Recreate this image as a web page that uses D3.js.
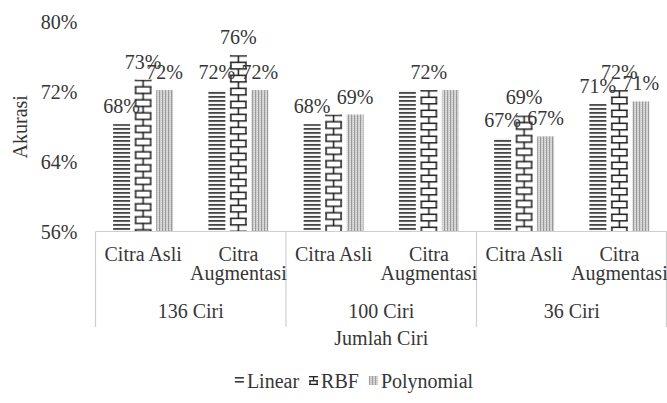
<!DOCTYPE html>
<html>
<head>
<meta charset="utf-8">
<script src="https://cdn.jsdelivr.net/npm/d3@7/dist/d3.min.js"></script>
<style>
  html, body { margin: 0; padding: 0; background: #fff; }
  svg { display: block; }
  svg text { font-family: "Liberation Serif", "Times New Roman", serif; }
</style>
</head>
<body>
<svg id="chart" width="667" height="403"></svg>
<script>
// Accuracy of three SVM kernels per feature count and image set
const groups = ["136 Ciri", "100 Ciri", "36 Ciri"];
const subsets = ["Citra Asli", "Citra Augmentasi"];
const series = ["Linear", "RBF", "Polynomial"];
const linearVals = [0.683, 0.722, 0.683, 0.722, 0.667, 0.706];
const rbfVals    = [0.734, 0.762, 0.694, 0.722, 0.693, 0.722];
const polyVals   = [0.722, 0.722, 0.694, 0.722, 0.669, 0.709];
const yTicks = [0.56, 0.64, 0.72, 0.80];
const yTitle = "Akurasi";
const xTitle = "Jumlah Ciri";
// value labels left out where they would sit on top of a neighbour (slot, series)
const hiddenLabels = [[2, "RBF"], [3, "Linear"], [3, "Polynomial"]];

const valuesBySeries = { "Linear": linearVals, "RBF": rbfVals, "Polynomial": polyVals };

const plotLeft = 95.5, plotRight = 667, plotBase = 231.5, plotTop = 22;
const textColor = "#363636";
const fontSize = 20;
const serif = "'Liberation Serif', 'Times New Roman', serif";

const svg = d3.select("#chart");
const defs = svg.append("defs");

// categories: one slot per (group, subset)
const slots = d3.range(groups.length * subsets.length);
const x0 = d3.scaleBand().domain(slots).range([plotLeft, plotRight]);
const xg = d3.scaleBand().domain(groups).range([plotLeft, plotRight]);
const x1 = d3.scaleBand().domain(series).range([0, x0.bandwidth()])
  .paddingInner(0.21).paddingOuter(0.82);
const y = d3.scaleLinear().domain([0.56, 0.80]).range([plotBase, plotTop]);
const pct = d3.format(".0%");

// ---- fill patterns ----
// narrow horizontal lines
const pLin = defs.append("pattern").attr("id", "pat-lin")
  .attr("patternUnits", "userSpaceOnUse").attr("width", 4).attr("height", 4);
pLin.append("rect").attr("width", 4).attr("height", 4).attr("fill", "#f6f6f6");
pLin.append("rect").attr("y", 0).attr("width", 4).attr("height", 1.8).attr("fill", "#454545");

// fine vertical dotted lines
const pPoly = defs.append("pattern").attr("id", "pat-poly")
  .attr("patternUnits", "userSpaceOnUse").attr("width", 3).attr("height", 2);
pPoly.append("rect").attr("width", 3).attr("height", 2).attr("fill", "#e2e2e2");
pPoly.append("rect").attr("x", 0).attr("width", 1.2).attr("height", 2).attr("fill", "#9a9a9a");
pPoly.append("rect").attr("x", 1.2).attr("y", 0).attr("width", 1.8).attr("height", 0.7).attr("fill", "#c4c4c4");

// brick pattern, one per bar so the bricks line up with the bar edges
function brickPattern(id, px, py, w, h) {
  const p = defs.append("pattern").attr("id", id)
    .attr("patternUnits", "userSpaceOnUse")
    .attr("x", px).attr("y", py).attr("width", w).attr("height", h);
  p.append("rect").attr("width", w).attr("height", h).attr("fill", "#fff");
  const g = p.append("g").attr("stroke", "#1e1e1e").attr("stroke-width", 1.5).attr("fill", "none");
  g.append("line").attr("x1", 0).attr("x2", w).attr("y1", 0.75).attr("y2", 0.75);
  g.append("line").attr("x1", 0).attr("x2", w).attr("y1", h / 2 + 0.75).attr("y2", h / 2 + 0.75);
  g.append("line").attr("x1", w / 2).attr("x2", w / 2).attr("y1", 0.75).attr("y2", h / 2 + 0.75);
  g.append("line").attr("x1", 1).attr("x2", 1).attr("y1", h / 2 + 0.75).attr("y2", h + 0.75);
  g.append("line").attr("x1", w - 1).attr("x2", w - 1).attr("y1", h / 2 + 0.75).attr("y2", h + 0.75);
}

// ---- bars ----
const bars = [];
slots.forEach(i => {
  series.forEach(s => {
    bars.push({ slot: i, series: s, value: valuesBySeries[s][i] });
  });
});

bars.forEach((d, k) => {
  d.x = x0(d.slot) + x1(d.series);
  d.w = x1.bandwidth();
  d.y = y(d.value);
  d.h = plotBase - d.y;
  d.showLabel = !hiddenLabels.some(([sl, se]) => sl === d.slot && se === d.series);
  if (d.series === "RBF") {
    d.pid = "brick-" + k;
    brickPattern(d.pid, d.x, d.y, d.w, 13);
  }
});

const fillFor = d => d.series === "Linear" ? "url(#pat-lin)"
  : d.series === "Polynomial" ? "url(#pat-poly)" : "url(#" + d.pid + ")";

svg.append("g").selectAll("rect").data(bars).join("rect")
  .attr("x", d => d.x).attr("y", d => d.y)
  .attr("width", d => d.w).attr("height", d => d.h)
  .attr("fill", fillFor);

// ---- data labels ----
svg.append("g").selectAll("text").data(bars.filter(d => d.showLabel)).join("text")
  .attr("x", d => d.x + d.w / 2)
  .attr("y", d => d.y - 11)
  .attr("text-anchor", "middle")
  .style("font-family", serif)
  .attr("font-size", fontSize)
  .attr("fill", textColor)
  .text(d => pct(d.value));

// ---- y axis ----
const yAxis = svg.append("g").attr("transform", `translate(${plotLeft - 16},0)`)
  .call(d3.axisLeft(y).tickValues(yTicks).tickFormat(pct).tickSize(0).tickPadding(2));
yAxis.select(".domain").remove();
yAxis.selectAll("text")
  .style("font-family", serif)
  .attr("font-size", fontSize).attr("fill", textColor).attr("dy", "0.33em");

svg.append("text")
  .attr("transform", `translate(27,${(plotTop + plotBase) / 2}) rotate(-90)`)
  .attr("text-anchor", "middle")
  .style("font-family", serif)
  .attr("font-size", fontSize).attr("fill", textColor)
  .text(yTitle);

// ---- category axis frame ----
const frame = svg.append("g").attr("stroke", "#cfcfcf").attr("stroke-width", 1.2);
frame.append("line").attr("x1", plotLeft).attr("x2", plotRight).attr("y1", plotBase).attr("y2", plotBase);
const bounds = groups.map(g => xg(g)).concat([xg.range()[1] - 0.6]);
frame.selectAll("line.sep").data(bounds).join("line").attr("class", "sep")
  .attr("x1", d => d).attr("x2", d => d).attr("y1", plotBase).attr("y2", 327);

// subset labels (wrapped onto two lines where needed)
const subAxis = svg.append("g").attr("transform", `translate(0,${plotBase})`)
  .call(d3.axisBottom(x0).tickSize(0).tickFormat(i => subsets[i % subsets.length]));
subAxis.select(".domain").remove();
subAxis.selectAll("text").each(function (d) {
  const t = d3.select(this);
  const label = subsets[d % subsets.length];
  const words = label === "Citra Asli" ? [label] : label.split(" ");
  t.text(null).attr("y", null).attr("dy", null)
    .style("font-family", serif)
    .attr("font-size", fontSize).attr("fill", textColor);
  words.forEach((w, j) => {
    t.append("tspan").attr("x", 0).attr("y", 29.5 + j * 19).text(w);
  });
});

// group labels
const grpAxis = svg.append("g").attr("transform", `translate(0,${plotBase})`)
  .call(d3.axisBottom(xg).tickSize(0));
grpAxis.select(".domain").remove();
grpAxis.selectAll("text")
  .attr("y", 86.5).attr("dy", null)
  .style("font-family", serif)
  .attr("font-size", fontSize).attr("fill", textColor);

svg.append("text")
  .attr("x", (plotLeft + plotRight) / 2).attr("y", 345)
  .attr("text-anchor", "middle")
  .style("font-family", serif)
  .attr("font-size", fontSize).attr("fill", textColor)
  .text(xTitle);

// ---- legend ----
const lpLin = defs.append("pattern").attr("id", "leg-lin")
  .attr("patternUnits", "userSpaceOnUse").attr("width", 9).attr("height", 4);
lpLin.append("rect").attr("width", 9).attr("height", 4).attr("fill", "#fff");
lpLin.append("rect").attr("y", 1).attr("width", 9).attr("height", 1.6).attr("fill", "#3a3a3a");

const legend = svg.append("g");
const legendY = 381;
const items = legend.selectAll("g").data(series).join("g");
items.append("rect")
  .attr("width", 9).attr("height", 9).attr("y", legendY - 5)
  .attr("fill", d => d === "Linear" ? "url(#leg-lin)" : d === "Polynomial" ? "url(#pat-poly)" : "#fff");
// RBF legend key: a small brick glyph
items.filter(d => d === "RBF").each(function () {
  const g = d3.select(this).append("g").attr("stroke", "#1e1e1e").attr("stroke-width", 1.3);
  g.append("line").attr("x1", 0).attr("x2", 9).attr("y1", legendY - 4.3).attr("y2", legendY - 4.3);
  g.append("line").attr("x1", 0).attr("x2", 9).attr("y1", legendY - 0.2).attr("y2", legendY - 0.2);
  g.append("line").attr("x1", 0).attr("x2", 9).attr("y1", legendY + 3.4).attr("y2", legendY + 3.4);
  g.append("line").attr("x1", 4.5).attr("x2", 4.5).attr("y1", legendY - 4.3).attr("y2", legendY - 0.2);
  g.append("line").attr("x1", 1).attr("x2", 1).attr("y1", legendY - 0.2).attr("y2", legendY + 3.4);
  g.append("line").attr("x1", 8).attr("x2", 8).attr("y1", legendY - 0.2).attr("y2", legendY + 3.4);
});
items.append("text")
  .attr("x", 12).attr("y", legendY + 7)
  .style("font-family", serif)
  .attr("font-size", fontSize).attr("fill", textColor)
  .text(d => d);

let cursor = 0;
const offsets = [];
items.each(function () {
  offsets.push(cursor);
  const tw = d3.select(this).select("text").node().getComputedTextLength();
  cursor += 12 + tw + 10;
});
const totalW = cursor - 10;
const startX = 354 - totalW / 2;
items.attr("transform", (d, i) => `translate(${startX + offsets[i]},0)`);
</script>
</body>
</html>
